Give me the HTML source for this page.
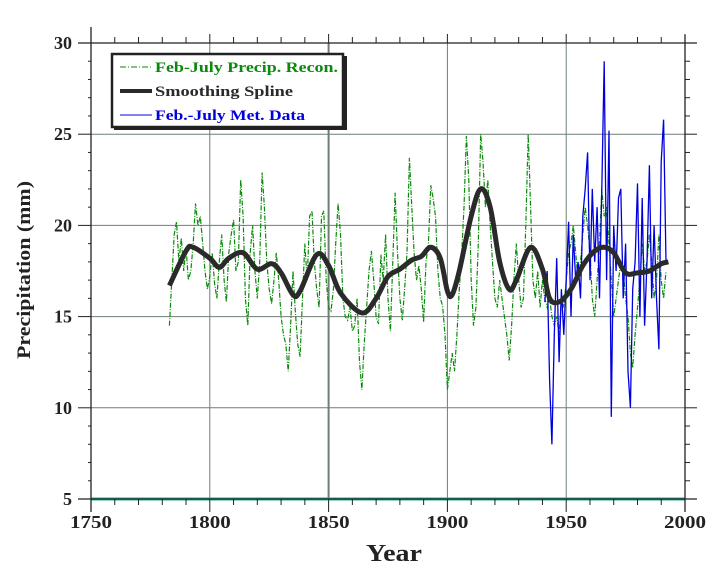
<!DOCTYPE html>
<html><head><meta charset="utf-8"><style>
html,body{margin:0;padding:0;background:#fff;}
svg{display:block;font-family:"Liberation Serif",serif;font-weight:bold;}
</style></head><body>
<svg id="chart" width="719" height="575" viewBox="0 0 719 575" xmlns="http://www.w3.org/2000/svg">
<g id="grid"></g>
<g id="series"></g>
<g id="axes"></g>
<text x="30" y="270" transform="rotate(-90 30 270)" text-anchor="middle" font-size="19" textLength="178" lengthAdjust="spacingAndGlyphs" fill="#222">Precipitation (mm)</text>
<text x="394" y="561" text-anchor="middle" font-size="24" textLength="56" lengthAdjust="spacingAndGlyphs" fill="#222">Year</text>
<g>
<rect x="114" y="56" width="233" height="74" fill="#222"/>
<rect x="112" y="54" width="231" height="73" fill="#fff" stroke="#222" stroke-width="2.5"/>
<line x1="120" y1="67" x2="152" y2="67" stroke="#0a8a0a" stroke-width="1" stroke-dasharray="6,2,1,2"/>
<text x="155" y="72" font-size="15" textLength="183" lengthAdjust="spacingAndGlyphs" fill="#0a8a0a">Feb-July Precip. Recon.</text>
<line x1="120" y1="91" x2="152" y2="91" stroke="#2a2a2a" stroke-width="4"/>
<text x="155" y="96" font-size="15" textLength="138" lengthAdjust="spacingAndGlyphs" fill="#2a2a2a">Smoothing Spline</text>
<line x1="120" y1="115" x2="152" y2="115" stroke="#0000dd" stroke-width="1"/>
<text x="155" y="120" font-size="15" textLength="150" lengthAdjust="spacingAndGlyphs" fill="#0000dd">Feb.-July Met. Data</text>
</g>
</svg>
<script>
const reconStart = 1783;
const reconValues = [
14.5,17,19.5,20.2,18,19.3,17.5,18.8,17,17.5,
19,21.2,20,20.5,19,17.5,16.5,17.2,18.5,16.8,
16,18,19.5,17,15.8,18.5,19.5,20.3,17.5,18,
22.5,20.5,16,14.5,18.5,20,17.5,16,18,22.9,
21,18,16.5,15.7,17,18.5,17,15,14,13.5,
12,14.5,17.5,15.3,13.5,12.8,16,19,17,20.5,
20.8,18,16.5,15.5,20.5,20.8,17,15.5,15.3,16.5,
19,21.2,19.5,16,15,14.8,15.5,14.2,14.5,16,
12.5,11,13.5,15.5,17.5,18.6,17,15,14.6,18.4,
17,19.5,16,14.2,18,21.8,18.5,16,14.8,16.5,
18.5,23.7,21,18.5,17,17.8,16.5,14.7,18,19,
22.2,21.5,20.5,17.5,16,15.6,14,11,12,13,
12,14,16.5,18.5,21,24.9,22.5,17,14.5,15.5,
19,25,23.5,21,22.5,20,18,16,15.5,17,
16,15,14,12.6,14.5,17,19,17,15.5,16,
20,25,21,17,16,17.5,15.5,17,16,15.5,
16,15,14.5,15,14,16,15.5,17,18.5,19,
20,18.5,17,18,19.5,21,20,18.5,16,15,
17,19,22,20.5,21,19,17,15,16,17,
18,17.5,16,15,13,12.2,14,15.5,17,19,
17.5,18,19.5,18,16,17,19.5,17,16,17.5];
const metStart = 1941;
const metValues = [15.8,17.5,11.5,8,14,18.2,12.5,16.5,14,17,20.2,15,19.5,17,18,16,20.5,22,24,17,22,18,21,16,22,29,17,25.2,9.5,20,17.5,21.5,22,16,19,12,10,16.5,18,22.3,15,21.5,14.5,18,23.3,16,20,16,13.2,23.5,25.8,18];
const splineYears = [1783,1790,1793,1800,1804,1808,1814,1820,1826,1830,1835,1838,1845,1850,1855,1864,1870,1875,1880,1885,1889,1893,1897,1900,1902,1905,1910,1914,1918,1922,1926,1929,1935,1940,1943,1947,1952,1957,1962,1966,1970,1975,1980,1985,1990,1993];
const splineValues = [16.7,18.6,18.8,18.2,17.7,18.2,18.5,17.6,17.9,17.4,16.2,16.4,18.4,17.8,16.3,15.2,16.0,17.2,17.6,18.1,18.3,18.8,18.2,16.4,16.2,17.5,20.5,22.0,21.0,18.0,16.5,17.0,18.8,17.6,16.0,15.8,16.5,17.8,18.6,18.8,18.5,17.4,17.4,17.5,17.9,18.0];
const xTicks = [1750,1800,1850,1900,1950,2000];
const yTicks = [5,10,15,20,25,30];

const X0=91,X1=685,Y0=499,Y1=43;
const x=v=>X0+(v-1750)/(2000-1750)*(X1-X0);
const y=v=>Y0-(v-5)/(30-5)*(Y0-Y1);
const NS="http://www.w3.org/2000/svg";
function mk(tag,attrs,parent){const e=document.createElementNS(NS,tag);for(const k in attrs)e.setAttribute(k,attrs[k]);parent.appendChild(e);return e;}
const grid=document.getElementById('grid'),series=document.getElementById('series'),axes=document.getElementById('axes');

xTicks.slice(1,-1).forEach(t=>{const l=mk('line',{x1:x(t),x2:x(t),y1:Y1,y2:Y0,stroke:'#6f7f75','stroke-width':t===1850?2:1},grid);

});
yTicks.slice(1,-1).forEach(t=>{const l=mk('line',{x1:X0,x2:X1,y1:y(t),y2:y(t),stroke:'#6f7f75','stroke-width':1},grid);

});

function pts(start,vals){return vals.map((v,i)=>x(start+i).toFixed(1)+','+y(v).toFixed(1)).join(' ');}
const rec=mk('polyline',{points:pts(reconStart,reconValues),fill:'none',stroke:'#0a8a0a','stroke-width':1.2,'stroke-dasharray':'5,1.5,1,1.5'},series);


const met=mk('polyline',{points:pts(metStart,metValues),fill:'none',stroke:'#0000dd','stroke-width':1.3},series);


const sp=splineYears.map((t,i)=>[x(t),y(splineValues[i])]);
let d='M'+sp[0][0]+','+sp[0][1];
for(let i=0;i<sp.length-1;i++){const p0=sp[Math.max(0,i-1)],p1=sp[i],p2=sp[i+1],p3=sp[Math.min(sp.length-1,i+2)];
d+=' C'+(p1[0]+(p2[0]-p0[0])/6)+','+(p1[1]+(p2[1]-p0[1])/6)+' '+(p2[0]-(p3[0]-p1[0])/6)+','+(p2[1]-(p3[1]-p1[1])/6)+' '+p2[0]+','+p2[1];}
const spl=mk('path',{d:d,fill:'none',stroke:'#2a2a2a','stroke-width':5,'stroke-linejoin':'round'},series);



mk('line',{x1:X0,x2:X1,y1:Y0,y2:Y0,stroke:'#1fb090','stroke-width':3},axes);
mk('line',{x1:X0,x2:X0,y1:27,y2:512,stroke:'#222','stroke-width':1.3},axes);
mk('line',{x1:X1,x2:X1,y1:35,y2:512,stroke:'#222','stroke-width':1.3},axes);
mk('line',{x1:78,x2:X1+12,y1:Y1,y2:Y1,stroke:'#222','stroke-width':1.3},axes);
mk('line',{x1:78,x2:X1+12,y1:Y0,y2:Y0,stroke:'#222','stroke-width':1.3},axes);
for(let t=1750;t<=2000;t+=10){const maj=t%50===0;
mk('line',{x1:x(t),x2:x(t),y1:Y1,y2:Y1-(maj?9:6),stroke:'#222'},axes);
mk('line',{x1:x(t),x2:x(t),y1:Y0,y2:Y0+(maj?13:6),stroke:'#222'},axes);}
for(let v=5;v<=30;v++){const maj=v%5===0;
mk('line',{x1:X0,x2:X0-(maj?13:3),y1:y(v),y2:y(v),stroke:'#222'},axes);
mk('line',{x1:X1,x2:X1+(maj?12:5),y1:y(v),y2:y(v),stroke:'#222'},axes);}
xTicks.forEach(t=>{const e=mk('text',{x:x(t),y:528,'text-anchor':'middle','font-size':18,textLength:42,lengthAdjust:'spacingAndGlyphs',fill:'#222'},axes);e.textContent=t;

});
yTicks.forEach(t=>{const e=mk('text',{x:72,y:y(t)+6,'text-anchor':'end','font-size':18,fill:'#222'},axes);e.textContent=t;

});
</script>
</body></html>
